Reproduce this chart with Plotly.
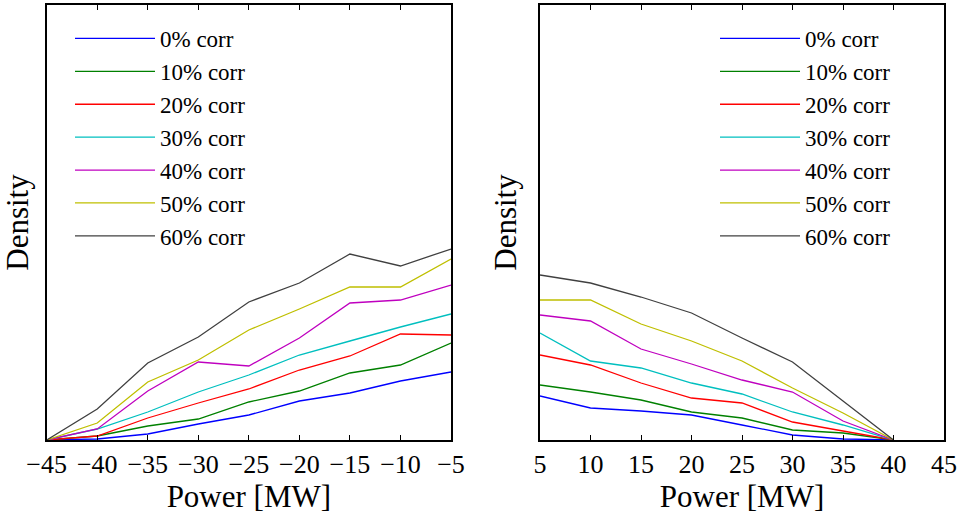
import plotly.graph_objects as go

labels = ["0% corr", "10% corr", "20% corr", "30% corr", "40% corr", "50% corr", "60% corr"]
colors = ["#0000FF", "#008000", "#FF0000", "#00BFBF", "#BF00BF", "#BFBF00", "#404040"]

x_neg = [-45, -40, -35, -30, -25, -20, -15, -10, -5]
neg_0 = [0, 1, 6, 16, 25, 39, 47, 59, 68]
neg_10 = [0, 4, 14, 21, 38, 49, 67, 75, 97]
neg_20 = [0, 4, 22, 37, 51, 70, 84, 106, 105]
neg_30 = [0, 11, 28, 48, 65, 85, 99, 113, 126]
neg_40 = [0, 11, 49, 78, 74, 102, 137, 140, 155]
neg_50 = [0, 17, 58, 80, 110, 131, 153, 153, 181]
neg_60 = [0, 31, 77, 103, 138, 157, 186, 174, 191]

x_pos = [5, 10, 15, 20, 25, 30, 35, 40]
pos_0 = [44, 32, 29, 25, 15, 5, 1, 0]
pos_10 = [55, 48, 40, 28, 22, 10, 7, 0]
pos_20 = [85, 75, 57, 42, 37, 18, 9, 0]
pos_30 = [107, 79, 72, 57, 46, 28, 15, 0]
pos_40 = [125, 119, 91, 76, 60, 48, 19, 0]
pos_50 = [140, 140, 116, 99, 79, 52, 27, 0]
pos_60 = [165, 157, 143, 127, 102, 78, 39, 0]

neg_series = [neg_0, neg_10, neg_20, neg_30, neg_40, neg_50, neg_60]
pos_series = [pos_0, pos_10, pos_20, pos_30, pos_40, pos_50, pos_60]

FONT = "Liberation Serif, DejaVu Serif, serif"
FS = 26
W = 961
RM = 12
PW = W - RM  # plot-area width used for domains

fig = go.Figure()
for lab, col, ys in zip(labels, colors, neg_series):
    fig.add_trace(go.Scatter(x=x_neg, y=ys, mode="lines", name=lab,
                             line=dict(color=col, width=1.3),
                             xaxis="x", yaxis="y", legend="legend"))
for lab, col, ys in zip(labels, colors, pos_series):
    fig.add_trace(go.Scatter(x=x_pos, y=ys, mode="lines", name=lab,
                             line=dict(color=col, width=1.3),
                             xaxis="x2", yaxis="y2", legend="legend2"))

axis_common = dict(showline=True, linecolor="black", linewidth=1.5, mirror="ticks",
                   ticks="inside", ticklen=5, tickcolor="black", showgrid=False,
                   zeroline=False, automargin=False,
                   tickfont=dict(family=FONT, size=FS, color="black"))
yaxis_common = dict(domain=[0, 1], range=[0, 435], showticklabels=False, ticks="",
                    showline=True, linecolor="black", linewidth=1.5, mirror=True,
                    showgrid=False, zeroline=False, automargin=False)

fig.update_layout(
    width=W, height=519,
    margin=dict(l=0, r=RM, t=5, b=79, autoexpand=False),
    paper_bgcolor="white", plot_bgcolor="white",
    font=dict(family=FONT, size=FS, color="black"),
    xaxis=dict(domain=[46.7 / PW, 451 / PW], range=[-45, -5], tickmode="array",
               tickvals=[-45, -40, -35, -30, -25, -20, -15, -10, -5],
               ticktext=["\u221245", "\u221240", "\u221235", "\u221230", "\u221225",
                         "\u221220", "\u221215", "\u221210", "\u22125"],
               title=dict(text="Power [MW]", standoff=4), anchor="y", **axis_common),
    yaxis=dict(title=dict(text="Density", standoff=12), anchor="x", **yaxis_common),
    xaxis2=dict(domain=[540 / PW, 944 / PW], range=[5, 45], tickmode="array",
                tickvals=[5, 10, 15, 20, 25, 30, 35, 40, 45],
                title=dict(text="Power [MW]", standoff=4), anchor="y2", **axis_common),
    yaxis2=dict(title=dict(text="Density", standoff=12), anchor="x2", **yaxis_common),
    legend=dict(x=70 / PW, y=1 - 12 / 435, xanchor="left", yanchor="top",
                bgcolor="rgba(0,0,0,0)", itemwidth=80, tracegroupgap=0,
                font=dict(family=FONT, size=23)),
    legend2=dict(x=715 / PW, y=1 - 12 / 435, xanchor="left", yanchor="top",
                 bgcolor="rgba(0,0,0,0)", itemwidth=80, tracegroupgap=0,
                 font=dict(family=FONT, size=23)),
)

fig.write_html("out.html",
               config={"displayModeBar": False},
               post_script="document.body.style.margin='0px';"
                           "document.body.style.overflow='hidden';")
